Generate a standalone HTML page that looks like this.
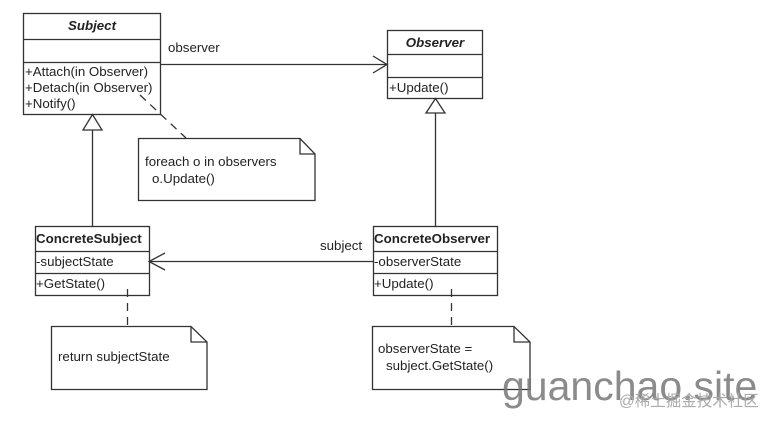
<!DOCTYPE html>
<html><head><meta charset="utf-8"><style>
body{margin:0;background:#fff;width:781px;height:422px;overflow:hidden}
svg{position:absolute;left:0;top:0}
text{font-family:"Liberation Sans",Arial,sans-serif;font-size:13.3px;fill:#222}
.b{font-weight:bold}
.bi{font-weight:bold;font-style:italic}
</style></head><body>
<svg width="781" height="422" viewBox="0 0 781 422">
<g fill="none" stroke="#333" stroke-width="1.3">
<rect x="23.5" y="13.5" width="137" height="101" fill="#fff"/>
<line x1="23" y1="39.5" x2="160" y2="39.5"/><line x1="23" y1="62.5" x2="160" y2="62.5"/>
<rect x="387.5" y="30.5" width="95" height="68" fill="#fff"/>
<line x1="387" y1="54.5" x2="482" y2="54.5"/><line x1="387" y1="77.5" x2="482" y2="77.5"/>
<rect x="35.5" y="226.5" width="114" height="69"/>
<line x1="35" y1="251.5" x2="149" y2="251.5"/><line x1="35" y1="273.5" x2="149" y2="273.5"/>
<rect x="373.5" y="226.5" width="124" height="69"/>
<line x1="373" y1="251.5" x2="497" y2="251.5"/><line x1="373" y1="273.5" x2="497" y2="273.5"/>
<line x1="160" y1="64.5" x2="387" y2="64.5"/>
<polyline points="373,56 387,64.5 373,73"/>
<line x1="373" y1="261.5" x2="149" y2="261.5"/>
<polyline points="165,253 149,261.5 165,270"/>
<line x1="92.5" y1="130" x2="92.5" y2="226"/>
<polygon points="92.5,114.5 83,130 102,130" fill="#fff"/>
<line x1="435.5" y1="113" x2="435.5" y2="226"/>
<polygon points="435.5,98.5 426,113 445,113" fill="#fff"/>
<path d="M138.5,138.5 H300 L315,154 V200.5 H138.5 Z"/><path d="M300,138.5 V154 H315"/>
<path d="M51.5,326.5 H191 L207,342 V389.5 H51.5 Z"/><path d="M191,326.5 V342 H207"/>
<path d="M372.5,326.5 H514 L530,342 V389.5 H372.5 Z"/><path d="M514,326.5 V342 H530"/>
<g stroke-dasharray="8,6">
<line x1="140" y1="95" x2="186" y2="138"/>
<line x1="127.5" y1="289" x2="127.5" y2="326"/>
<line x1="451.5" y1="289" x2="451.5" y2="326"/>
</g>
</g>
<text x="92" y="30" text-anchor="middle" class="bi">Subject</text>
<text x="25" y="76">+Attach(in Observer)</text>
<text x="25" y="92">+Detach(in Observer)</text>
<text x="25" y="108">+Notify()</text>
<text x="168" y="52">observer</text>
<text x="435" y="47" text-anchor="middle" class="bi">Observer</text>
<text x="389" y="92">+Update()</text>
<text x="145" y="166">foreach o in observers</text>
<text x="152" y="183">o.Update()</text>
<text x="36" y="243" class="b">ConcreteSubject</text>
<text x="36" y="266">-subjectState</text>
<text x="36" y="288">+GetState()</text>
<text x="320" y="250">subject</text>
<text x="374" y="243" class="b">ConcreteObserver</text>
<text x="374" y="266">-observerState</text>
<text x="374" y="288">+Update()</text>
<text x="58" y="361">return subjectState</text>
<text x="378" y="353">observerState =</text>
<text x="386" y="370">subject.GetState()</text>
<text x="502" y="400" style="font-size:41px;fill:#777;fill-opacity:0.85">guanchao.site</text>
<text x="619" y="406" style="font-size:15.5px;fill:#aaa;font-family:'Liberation Sans','Noto Sans CJK SC',sans-serif">@稀土掘金技术社区</text>
</svg>
</body></html>
